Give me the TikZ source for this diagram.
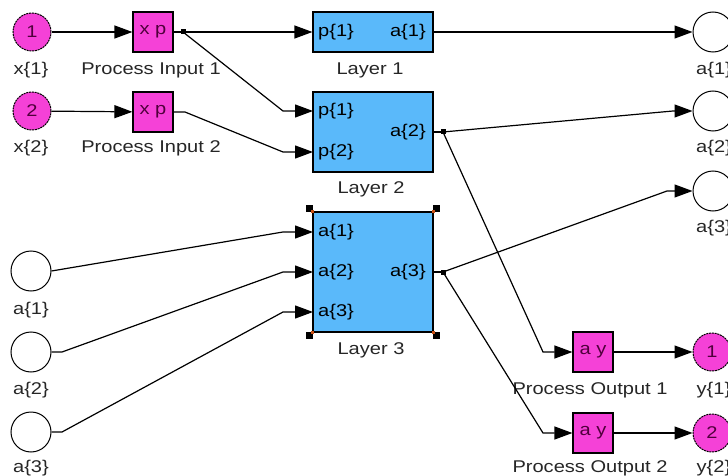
\documentclass[tikz,border=0pt]{standalone}
\usepackage{fontspec}
\setmainfont[FakeStretch=1.18]{Liberation Sans}
\usetikzlibrary{arrows.meta,calc}
\definecolor{mag}{RGB}{245,65,215}
\definecolor{lblue}{RGB}{90,185,250}
\definecolor{dpurp}{RGB}{80,0,60}
\definecolor{handle}{RGB}{200,80,20}
\tikzset{
  every node/.style={font=\fontsize{17}{20}\selectfont, inner sep=0pt},
  port/.style={circle, draw=black, fill=mag, line width=1pt, dash pattern=on 2pt off 0.8pt, minimum size=38pt, text=dpurp},
  wport/.style={circle, draw=black, fill=white, line width=1pt, minimum size=40pt},
  procbox/.style={rectangle, draw=black, fill=mag, line width=1.2pt, minimum width=40pt, minimum height=40pt, text=dpurp},
  layerbox/.style={rectangle, draw=black, fill=lblue, line width=1.2pt, minimum width=120pt},
  lbl/.style={text=black!85},
  wire/.style={line width=1.2pt, draw=black},
  arr/.style={wire, -{Triangle[length=18pt,width=13pt]}},
  dot/.style={rectangle, fill=black, minimum size=5pt, inner sep=0pt},
}
\begin{document}
\begin{tikzpicture}[x=1pt,y=-1pt]
\useasboundingbox (0,0) rectangle (728,476);
% input ports
\node[port] (in1) at (32,32) {1};
\node[port] (in2) at (32,111) {2};
\node[lbl] (lin1) at (31,70) {x\{1\}};
\node[lbl] (lin2) at (31,148) {x\{2\}};
% process input blocks
\node[procbox] (pi1) at (153,32) {x p};
\node[procbox] (pi2) at (153,112) {x p};
\node[lbl] (lpi1) at (151,70) {Process Input 1};
\node[lbl] (lpi2) at (151,148) {Process Input 2};
% layers
\node[layerbox, minimum height=40pt] (L1) at (373,32) {};
\node[layerbox, minimum height=80pt] (L2) at (373,132) {};
\node[layerbox, minimum height=120pt] (L3) at (373,272) {};
\node[lbl] (lL1) at (370,70) {Layer 1};
\node[lbl] (lL2) at (371,189) {Layer 2};
\node[lbl] (lL3) at (371,350) {Layer 3};
% port labels in layers
\node[anchor=west] (t11) at (318,32) {p\{1\}};
\node[anchor=east] (t12) at (426,32) {a\{1\}};
\node[anchor=west] (t21) at (318,111) {p\{1\}};
\node[anchor=west] (t22) at (318,152) {p\{2\}};
\node[anchor=east] (t23) at (426,132) {a\{2\}};
\node[anchor=west] (t31) at (318,232) {a\{1\}};
\node[anchor=west] (t32) at (318,272) {a\{2\}};
\node[anchor=west] (t33) at (318,312) {a\{3\}};
\node[anchor=east] (t34) at (426,272) {a\{3\}};
% selection handles on Layer 3
\foreach \c/\dx/\dy in {north west/-3/-3, north east/3/-3, south west/-3/3, south east/3/3}{
  \fill[black] ($(L3.\c)+(\dx,\dy)+(-3.5,-3.5)$) rectangle ++(7,7);
  \fill[handle] ($(L3.\c)+(-1.5,-1.5)$) rectangle ++(3,3);
}
% right side a ports
\node[wport] (o1) at (713,32) {};
\node[wport] (o2) at (713,111) {};
\node[wport] (o3) at (713,191) {};
\node[lbl] (lo1) at (714,70) {a\{1\}};
\node[lbl] (lo2) at (714,148) {a\{2\}};
\node[lbl] (lo3) at (714,228) {a\{3\}};
% left side a ports
\node[wport] (la1) at (31,271) {};
\node[wport] (la2) at (31,352) {};
\node[wport] (la3) at (31,432) {};
\node[lbl] (lla1) at (31,310) {a\{1\}};
\node[lbl] (lla2) at (31,390) {a\{2\}};
\node[lbl] (lla3) at (31,468) {a\{3\}};
% process output blocks
\node[procbox] (po1) at (593,352) {a y};
\node[procbox] (po2) at (593,433) {a y};
\node[lbl] (lpo1) at (590,390) {Process Output 1};
\node[lbl] (lpo2) at (590,468) {Process Output 2};
% output ports
\node[port] (y1) at (712,352) {1};
\node[port] (y2) at (712,433) {2};
\node[lbl] (ly1) at (714,390) {y\{1\}};
\node[lbl] (ly2) at (714,468) {y\{2\}};
% coordinates
\coordinate (L1in) at (L1.west);
\coordinate (L2p1) at (313,111);
\coordinate (L2p2) at (313,152);
\coordinate (L2out) at (L2.east);
\coordinate (L3a1) at (313,232);
\coordinate (L3a2) at (313,272);
\coordinate (L3a3) at (313,312);
\coordinate (L3out) at (L3.east);
\node[dot] (b1) at (183,32) {};
\node[dot] (b2) at (443,132) {};
\node[dot] (b3) at (443,272) {};
% wires
\draw[arr] (in1) -- (pi1);
\draw[arr] (in2) -- (pi2);
\draw[wire] (pi1.east) -- (b1.center);
\draw[arr] (b1.center) -- (L1in);
\draw[arr] (b1.center) -- (283,111) -- (L2p1);
\draw[arr] (pi2.east) -- (185,112) -- (283,152) -- (L2p2);
\draw[arr] (L1.east) -- (o1.west);
\draw[wire] (L2out) -- (b2.center);
\draw[arr] (b2.center) -- (673,111) -- (o2.west);
\draw[arr] (b2.center) -- (543,352) -- (po1.west);
\draw[wire] (L3out) -- (b3.center);
\draw[arr] (b3.center) -- (667,191) -- (o3.west);
\draw[arr] (b3.center) -- (543,433) -- (po2.west);
\draw[arr] (la1.east) -- (283,232) -- (L3a1);
\draw[arr] (la2.east) -- (62,352) -- (283,272) -- (L3a2);
\draw[arr] (la3.east) -- (62,432) -- (283,312) -- (L3a3);
\draw[arr] (po1) -- (y1);
\draw[arr] (po2) -- (y2);
\end{tikzpicture}
\end{document}
